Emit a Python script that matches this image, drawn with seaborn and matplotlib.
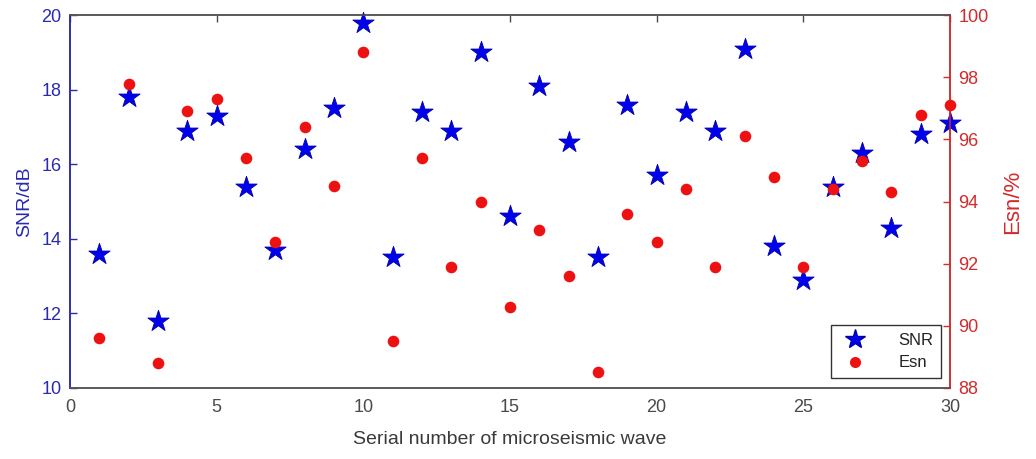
import matplotlib
matplotlib.use("Agg")
import matplotlib.pyplot as plt
import seaborn as sns
import pandas as pd
from matplotlib.lines import Line2D

wave_no = list(range(1, 31))
snr_db = [13.6, 17.8, 11.8, 16.9, 17.3, 15.4, 13.7, 16.4, 17.5, 19.8,
          13.5, 17.4, 16.9, 19.0, 14.6, 18.1, 16.6, 13.5, 17.6, 15.7,
          17.4, 16.9, 19.1, 13.8, 12.9, 15.4, 16.3, 14.3, 16.8, 17.1]
esn_pct = [89.6, 97.8, 88.8, 96.9, 97.3, 95.4, 92.7, 96.4, 94.5, 98.8,
           89.5, 95.4, 91.9, 94.0, 90.6, 93.1, 91.6, 88.5, 93.6, 92.7,
           94.4, 91.9, 96.1, 94.8, 91.9, 94.4, 95.3, 94.3, 96.8, 97.1]
x_ticks = [0, 5, 10, 15, 20, 25, 30]
snr_ticks = [10, 12, 14, 16, 18, 20]
esn_ticks = [88, 90, 92, 94, 96, 98, 100]

df = pd.DataFrame({"n": wave_no, "SNR": snr_db, "Esn": esn_pct})

sns.set_style("white")
plt.rcParams["font.family"] = ["Liberation Sans", "DejaVu Sans"]

BLUE_TXT = "#2a2ab0"
RED_TXT = "#d42a2a"
GREY = "#4a4a4a"

fig = plt.figure(figsize=(10.36, 4.59), dpi=100)
ax = fig.add_axes([0.0676, 0.1547, 0.8494, 0.8123])
ax2 = ax.twinx()

sns.scatterplot(data=df, x="n", y="SNR", ax=ax, marker="*", s=260,
                color="#0000ee", edgecolor="#0000aa", linewidth=0.6,
                legend=False, zorder=3, clip_on=False)
sns.scatterplot(data=df, x="n", y="Esn", ax=ax2, marker="o", s=70,
                color="#ee1111", edgecolor="#ee1111", linewidth=0,
                legend=False, zorder=3, clip_on=False)

ax.set_xlim(0, 30)
ax.set_ylim(10, 20)
ax2.set_ylim(88, 100)
ax.set_xticks(x_ticks)
ax.set_yticks(snr_ticks)
ax2.set_yticks(esn_ticks)

ax.set_xlabel("Serial number of microseismic wave", fontsize=14, color="#3a3a3a", labelpad=11)
ax.set_ylabel("SNR/dB", fontsize=14, color=BLUE_TXT, labelpad=6)
ax2.set_ylabel("Esn/%", fontsize=16, color=RED_TXT, labelpad=10)

ax.tick_params(axis="x", direction="in", length=5, width=1, colors=GREY,
               labelsize=13, top=True, pad=8)
ax.tick_params(axis="y", direction="in", length=5, width=1, colors=BLUE_TXT,
               labelsize=13, pad=6)
ax2.tick_params(axis="y", direction="in", length=5, width=1, colors=RED_TXT,
                labelsize=13, pad=6)
ax2.tick_params(axis="x", top=False, bottom=False)

for a in (ax, ax2):
    for sp in a.spines.values():
        sp.set_visible(True)
        sp.set_linewidth(1.1)
    a.spines["top"].set_color("#555555")
    a.spines["bottom"].set_color("#555555")
    a.spines["left"].set_color("#2a2ab0")
    a.spines["right"].set_color("#d42a2a")
    a.grid(False)

handles = [
    Line2D([], [], linestyle="none", marker="*", markersize=15,
           color="#0000ee", markeredgecolor="#0000aa"),
    Line2D([], [], linestyle="none", marker="o", markersize=8,
           color="#ee1111", markeredgewidth=0),
]
leg = ax2.legend(handles, ["SNR", "Esn"], loc="lower right",
                 bbox_to_anchor=(0.9898, 0.027), borderaxespad=0,
                 fontsize=12, frameon=True, fancybox=False, edgecolor="black",
                 handletextpad=1.6, borderpad=0.45, labelspacing=0.45,
                 handlelength=2.0)
leg.get_frame().set_linewidth(1.0)
for t in leg.get_texts():
    t.set_color("#222222")

fig.savefig("out.png", dpi=100, facecolor="white")
